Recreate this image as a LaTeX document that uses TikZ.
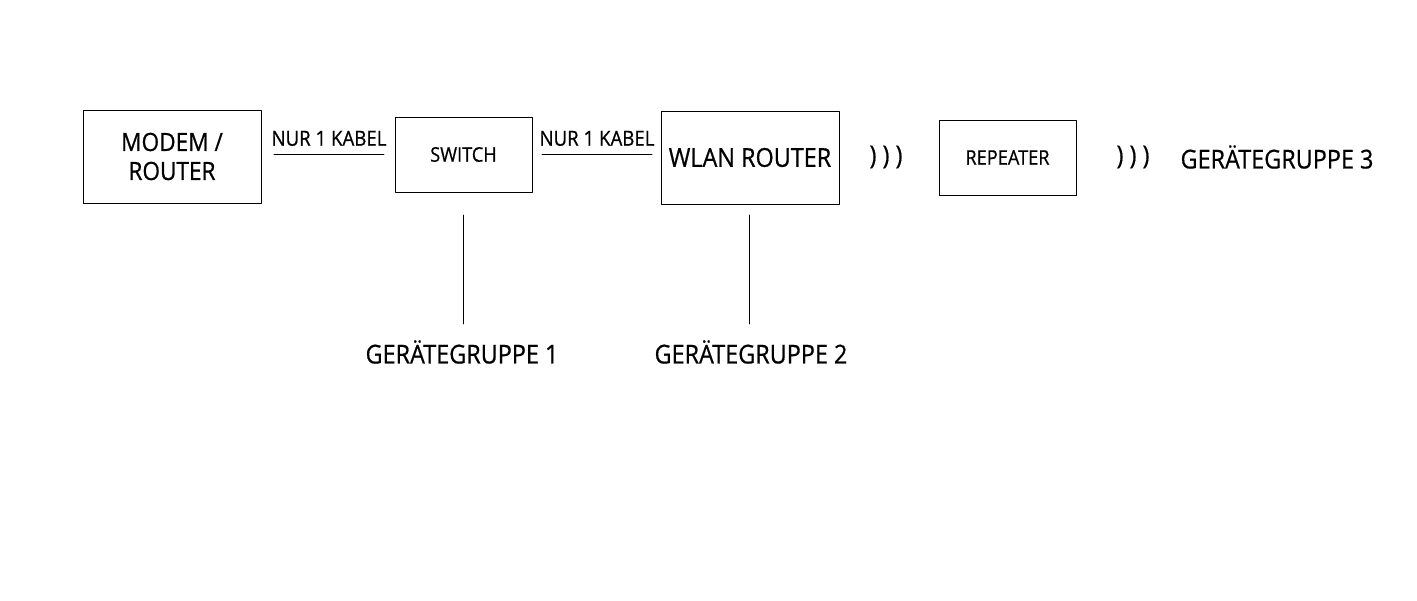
\documentclass[tikz,border=0pt]{standalone}
\usepackage{fontspec}
\setmainfont[FakeStretch=0.9, FakeBold=0.6]{Open Sans}
\begin{document}
\begin{tikzpicture}[x=0.02cm, y=-0.02cm, line width=0.55pt, line join=round, line cap=round,
    bigbox/.style={draw, inner sep=0pt, align=center, minimum width=3.56cm, minimum height=1.86cm},
    smallbox/.style={draw, inner sep=0pt, align=center, minimum width=2.74cm, minimum height=1.5cm},
    big/.style={font=\fontsize{14.8}{16}\selectfont},
    small/.style={font=\fontsize{11.5}{13}\selectfont}]
    \useasboundingbox (0,0) rectangle (1417,601);
    % Kasten
    \node[bigbox, font=\fontsize{14.3}{16.5}\selectfont] (modem) at (172,156.5) {MODEM /\\ROUTER};
    \node[smallbox, small] (switch) at (463.5,154.5) {SWITCH};
    \node[bigbox, big, font=\fontsize{14.8}{16}\selectfont] (wlan) at (750,157.5) {WLAN ROUTER};
    \node[smallbox, small] (repeater) at (1007.5,157.5) {REPEATER};
    % Funk
    \node[big] (funk1) at (886,157) {) ) )};
    \node[big] (funk2) at (1133,157) {) ) )};
    \node[big] (g3) at (1277,157) {GERÄTEGRUPPE 3};
    % Kabel
    \coordinate (k1a) at (274,154); \coordinate (k1b) at (384,154);
    \coordinate (k2a) at (542,154); \coordinate (k2b) at (652,154);
    \draw (k1a) -- (k1b) node[midway, above=1pt, font=\fontsize{11.8}{13}\selectfont] (kabel1) {NUR 1 KABEL};
    \draw (k2a) -- (k2b) node[midway, above=1pt, font=\fontsize{11.8}{13}\selectfont] (kabel2) {NUR 1 KABEL};
    % Geraetegruppen
    \node[big] (g1) at (462,352) {GERÄTEGRUPPE 1};
    \node[big] (g2) at (751,352) {GERÄTEGRUPPE 2};
    \coordinate (s1) at (463,215); \coordinate (s2) at (749,215);
    \draw (s1) -- (s1 |- 0,324);
    \draw (s2) -- (s2 |- 0,324);
\end{tikzpicture}
\end{document}
